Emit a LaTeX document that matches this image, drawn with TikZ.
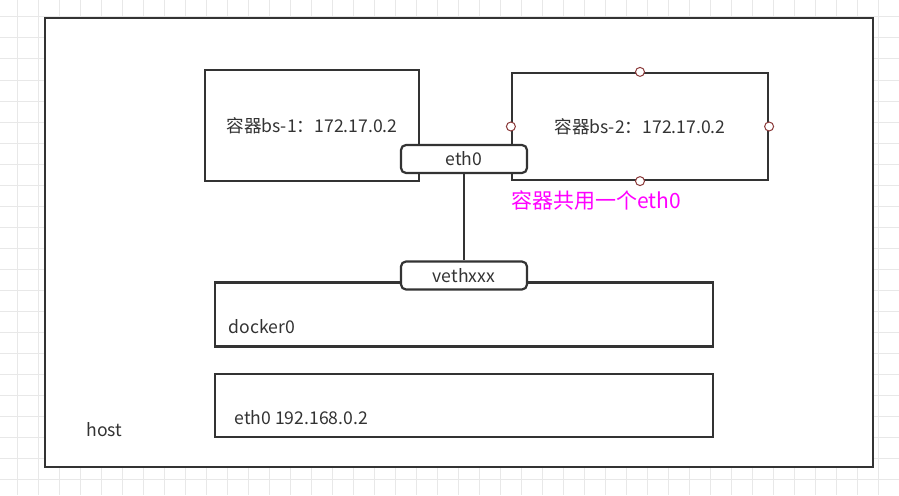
\documentclass[tikz,border=0pt]{standalone}
\usepackage{fontspec}
\setmainfont{Noto Sans CJK SC}
\usepackage{xcolor}
\usepackage{tikz}
\usetikzlibrary{shapes,arrows,positioning}

\definecolor{linegray}{HTML}{333333}
\definecolor{gridgray}{HTML}{E8E8E8}
\definecolor{portred}{HTML}{8B3A3A}
\definecolor{notepink}{HTML}{FF00FF}

\begin{document}
\begin{tikzpicture}[x=1pt, y=-1pt, font=\fontsize{17.6}{21}\selectfont, text=linegray]
    % Define styles
    \tikzstyle{gridline} = [draw=gridgray, line width=1pt]
    \tikzstyle{frame} = [rectangle, draw=linegray, fill=white, line width=2.2pt, inner sep=0pt]
    \tikzstyle{container} = [rectangle, draw=linegray, fill=white, line width=2.2pt, inner sep=0pt]
    \tikzstyle{iface} = [rectangle, draw=linegray, fill=white, line width=2.2pt, rounded corners=5pt, minimum width=126pt, minimum height=28pt, inner sep=0pt]
    \tikzstyle{port} = [circle, draw=portred, fill=white, line width=1pt, minimum size=9pt, inner sep=0pt]
    \tikzstyle{link} = [draw=linegray, line width=2.2pt]

    \useasboundingbox (0,0) rectangle (899,495);
    \fill[white] (0,0) rectangle (899,495);

    % Grid
    \foreach \gx in {17,38,...,899}
        \draw[gridline] (\gx,0) -- (\gx,495);
    \foreach \gy in {17,38,...,495}
        \draw[gridline] (0,\gy) -- (899,\gy);

    % Nodes
    \node [frame, minimum width=828pt, minimum height=449pt] (host) at (459,242.5) {};
    \node [anchor=west] (hostlabel) at (83,430) {host};

    \node [container, minimum width=214pt, minimum height=111pt] (bs1) at (312,125.5) {容器bs-1：172.17.0.2};
    \node [container, minimum width=256pt, minimum height=107pt] (bs2) at (640,126.5) {容器bs-2：172.17.0.2};

    \node [container, minimum width=498pt, minimum height=64pt] (docker) at (464,314.5) {};
    \node [anchor=west] (dockerlabel) at (225,327) {docker0};
    \node [container, minimum width=498pt, minimum height=63pt] (hosteth) at (464,405.5) {};
    \node [anchor=west] (hostethlabel) at (231,418) {eth0 192.168.0.2};

    \node [iface] (eth) at (464,159) {eth0};
    \node [iface] (veth) at (464,275.5) {vethxxx};

    \node [port] (portn) at (bs2.north) {};
    \node [port] (portw) at (bs2.west) {};
    \node [port] (porte) at (bs2.east) {};
    \node [port] (ports) at (bs2.south) {};

    \node [anchor=west, text=notepink, font=\fontsize{21}{25}\selectfont] (note) at (508,200) {容器共用一个eth0};

    % Lines
    \draw [link] (eth.south) -- (veth.north);
\end{tikzpicture}
\end{document}
